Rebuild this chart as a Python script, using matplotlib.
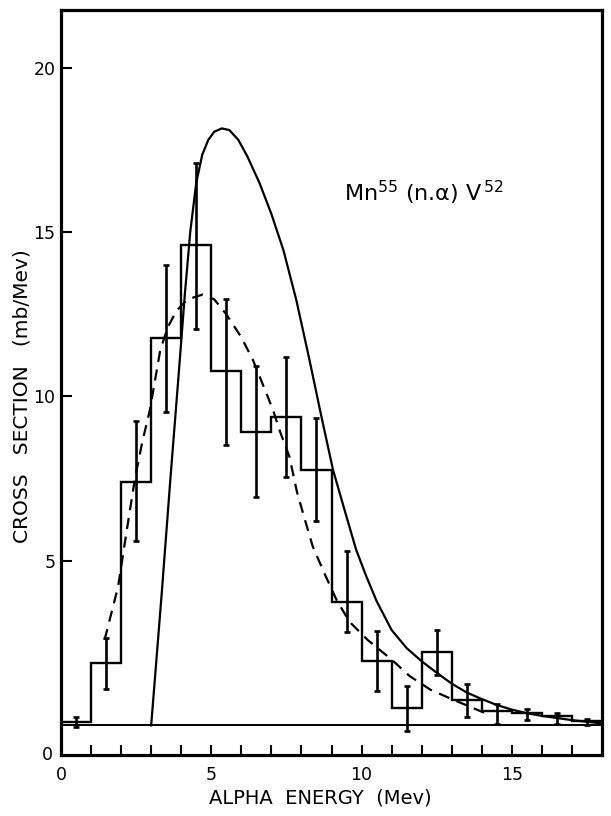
import matplotlib
matplotlib.use("Agg")
import matplotlib.pyplot as plt

# ---- data ----
bin_edges = list(range(0, 19))
hist_levels = [0.10, 1.89, 7.41, 11.79, 14.60, 10.78, 8.93, 9.39, 7.77,
               3.76, 1.96, 0.52, 2.22, 0.78, 0.45, 0.38, 0.30, 0.12]
err_x = [0.5, 1.5, 2.5, 3.5, 4.5, 5.5, 6.5, 7.5, 8.5,
         9.5, 10.5, 11.5, 12.5, 13.5, 14.5, 15.5, 16.5, 17.5]
err_lo = [0.15, 0.79, 1.80, 2.27, 2.55, 2.25, 1.99, 1.83, 1.56,
          0.91, 0.90, 0.68, 0.69, 0.53, 0.40, 0.22, 0.25, 0.10]
err_hi = [0.15, 0.76, 1.85, 2.21, 2.50, 2.18, 2.01, 1.80, 1.57,
          1.55, 0.92, 0.68, 0.68, 0.48, 0.20, 0.12, 0.08, 0.08]

solid_x = [3.0, 3.35, 3.64, 3.9, 4.12, 4.3, 4.5, 4.7, 4.9, 5.1, 5.35, 5.6,
           5.9, 6.2, 6.6, 7.0, 7.4, 7.83, 8.27, 8.65, 9.05, 9.45, 9.82,
           10.15, 10.5, 11.0, 11.5, 12.0, 12.5, 13.0, 13.5, 14.0, 14.5, 15.0,
           15.5, 16.0, 17.0, 18.0]
solid_y = [0.0, 4.0, 7.5, 10.5, 13.1, 15.0, 16.5, 17.35, 17.8, 18.05, 18.15,
           18.1, 17.8, 17.3, 16.5, 15.55, 14.45, 12.93, 11.1, 9.45, 7.77, 6.5,
           5.34, 4.55, 3.78, 2.9, 2.35, 1.95, 1.6, 1.27, 1.0, 0.8, 0.62, 0.48,
           0.37, 0.29, 0.16, 0.06]

dashed_x = [1.45, 1.7, 1.9, 2.2, 2.46, 2.7, 2.96, 3.3, 3.55, 3.84, 4.2,
            4.72, 5.1, 5.5, 6.0, 6.39, 6.7, 7.05, 7.3, 7.6, 7.85, 8.1, 8.38,
            8.8, 9.17, 9.6, 10.2, 11.0, 11.6, 12.3, 13.0, 13.6, 14.25]
dashed_y = [2.6, 3.5, 4.22, 6.0, 7.5, 8.6, 9.6, 11.4, 12.1, 12.6, 12.95,
            13.1, 12.95, 12.5, 11.8, 11.1, 10.4, 9.6, 8.9, 8.17, 7.1, 6.3,
            5.43, 4.55, 3.81, 3.15, 2.6, 2.0, 1.5, 1.08, 0.8, 0.57, 0.32]

x_major = [0, 5, 10, 15]
x_minor = [i for i in range(1, 18) if i % 5 != 0]
y_ticks = [5, 10, 15, 20]

plt.rcParams['font.family'] = ['DejaVu Sans']

fig = plt.figure(figsize=(6.11, 8.16), dpi=100)
W, H = 611, 816
ax = fig.add_axes([61 / W, 1 - 755 / H, (602 - 61) / W, (755 - 10) / H])
ax.set_xlim(0, 18)
ax.set_ylim(-0.9, 21.75)

ax.axhline(0, color='black', lw=1.4)
ax.stairs(hist_levels, bin_edges, color='black', lw=1.7, baseline=None)
ax.errorbar(err_x, hist_levels, yerr=[err_lo, err_hi], fmt='none',
            ecolor='black', elinewidth=1.9, capsize=2.5, capthick=1.9)
ax.plot(solid_x, solid_y, color='black', lw=1.6)
ax.plot(dashed_x, dashed_y, color='black', lw=1.6, dashes=(5, 3.5))

ax.set_xticks(x_major)
ax.set_xticks(x_minor, minor=True)
ax.set_xticklabels([str(v) for v in x_major])
ax.set_yticks(y_ticks)
ax.set_yticklabels([str(v) for v in y_ticks])
ax.tick_params(axis='x', which='both', direction='in', length=7, width=1.5,
               pad=8, labelsize=12.5)
ax.tick_params(axis='y', which='both', direction='in', length=8, width=1.5,
               pad=4, labelsize=12.5)
for s in ax.spines.values():
    s.set_linewidth(2.3)

ax.text(-0.27, -0.9, '0', ha='right', va='center', fontsize=12.5,
        clip_on=False)

ax.text(9.4, 16.2, 'Mn$^{55}$ (n.α) V$^{\\,52}$', fontsize=16, va='center')

fig.text(320 / W, 1 - 798 / H, 'ALPHA  ENERGY  (Mev)', ha='center',
         va='center', fontsize=14)
fig.text(22 / W, 1 - 396 / H, 'CROSS   SECTION   (mb/Mev)', ha='center',
         va='center', rotation=90, fontsize=14.5)

fig.savefig('out.png', dpi=100)
